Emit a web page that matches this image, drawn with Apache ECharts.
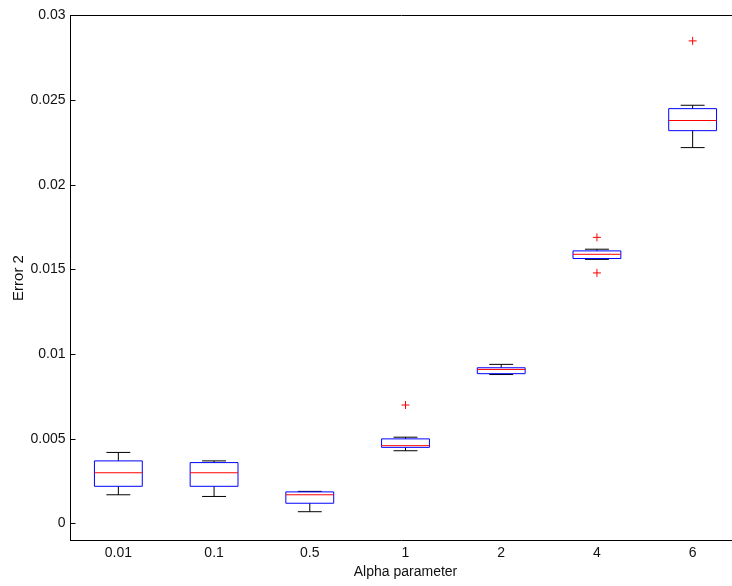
<!DOCTYPE html>
<html>
<head>
<meta charset="utf-8">
<script src="https://cdn.jsdelivr.net/npm/echarts@6/dist/echarts.min.js"></script>
<style>
  html, body { margin: 0; padding: 0; background: #fff; }
  #chart { width: 732px; height: 586px; }
</style>
</head>
<body>
<div id="chart"></div>
<script>
// Alpha parameter values (x categories)
const categories = ['0.01', '0.1', '0.5', '1', '2', '4', '6'];

// Box statistics for Error 2 per alpha value
const lowerWhisker = [0.0017, 0.0016, 0.0007, 0.0043, 0.0088, 0.0156, 0.0222];
const lowerQuartile = [0.0022, 0.0022, 0.0012, 0.0045, 0.00885, 0.01565, 0.0232];
const medianValue = [0.0030, 0.0030, 0.0017, 0.0046, 0.0091, 0.0159, 0.0238];
const upperQuartile = [0.0037, 0.0036, 0.00187, 0.0050, 0.0092, 0.0161, 0.0245];
const upperWhisker = [0.0042, 0.0037, 0.0019, 0.0051, 0.0094, 0.0162, 0.0247];

// Outliers: category each belongs to and its value
const outlierCategory = ['1', '4', '4', '6'];
const outlierValue = [0.0070, 0.0169, 0.0148, 0.0285];

const boxData = categories.map((c, i) => [
  i, lowerWhisker[i], lowerQuartile[i], medianValue[i], upperQuartile[i], upperWhisker[i]
]);
const outlierData = outlierCategory.map((c, i) => [categories.indexOf(c), outlierValue[i]]);

const FONT = 'Liberation Sans, Arial, Helvetica, sans-serif';

function renderBox(params, api) {
  const idx = api.value(0);
  const x = api.coord([idx, 0])[0];
  const yLo = api.coord([idx, api.value(1)])[1];
  const yQ1 = api.coord([idx, api.value(2)])[1];
  const yMed = api.coord([idx, api.value(3)])[1];
  const yQ3 = api.coord([idx, api.value(4)])[1];
  const yHi = api.coord([idx, api.value(5)])[1];
  const band = api.size([1, 0])[0];
  const bw = band * 0.5;
  const cw = bw * 0.5;
  const whisker = { stroke: '#000', lineWidth: 1 };
  return {
    type: 'group',
    children: [
      { type: 'line', shape: { x1: x, y1: yHi, x2: x, y2: yQ3 }, style: whisker },
      { type: 'line', shape: { x1: x, y1: yQ1, x2: x, y2: yLo }, style: whisker },
      { type: 'line', shape: { x1: x - cw / 2, y1: yHi, x2: x + cw / 2, y2: yHi }, style: whisker },
      { type: 'line', shape: { x1: x - cw / 2, y1: yLo, x2: x + cw / 2, y2: yLo }, style: whisker },
      { type: 'rect', shape: { x: x - bw / 2, y: yQ3, width: bw, height: yQ1 - yQ3 },
        style: { fill: 'none', stroke: '#0000ff', lineWidth: 1 } },
      { type: 'line', shape: { x1: x - bw / 2, y1: yMed, x2: x + bw / 2, y2: yMed },
        style: { stroke: '#ff0000', lineWidth: 1 } }
    ]
  };
}

function renderPlus(params, api) {
  const p = api.coord([api.value(0), api.value(1)]);
  const r = 4;
  const st = { stroke: '#ff0000', lineWidth: 1 };
  return {
    type: 'group',
    children: [
      { type: 'line', shape: { x1: p[0] - r, y1: p[1], x2: p[0] + r, y2: p[1] }, style: st },
      { type: 'line', shape: { x1: p[0], y1: p[1] - r, x2: p[0], y2: p[1] + r }, style: st }
    ]
  };
}

const chart = echarts.init(document.getElementById('chart'), null, { renderer: 'canvas' });
chart.setOption({
  animation: false,
  backgroundColor: '#fff',
  grid: {
    left: 70.5, top: 15.5, right: -8.5, bottom: 45.5,
    outerBoundsMode: 'none',
    containLabel: false,
    show: false
  },
  xAxis: [
    {
      type: 'category',
      data: categories,
      boundaryGap: true,
      name: 'Alpha parameter',
      nameLocation: 'middle',
      nameGap: 25,
      nameMoveOverlap: false,
      nameTextStyle: { color: '#111', fontSize: 14, fontFamily: FONT },
      axisLine: { onZero: false, lineStyle: { color: '#000', width: 1 } },
      axisTick: { show: false },
      axisLabel: { color: '#111', fontSize: 14, fontFamily: FONT, margin: 6 },
      splitLine: { show: false }
    },
    {
      // top frame line of the plot box
      type: 'category',
      data: categories,
      position: 'top',
      axisLine: { onZero: false, lineStyle: { color: '#000', width: 1 } },
      axisTick: { show: false },
      axisLabel: { show: false },
      splitLine: { show: false }
    }
  ],
  yAxis: {
    type: 'value',
    min: -0.001,
    max: 0.03,
    splitNumber: 6,
    name: 'Error 2',
    nameLocation: 'middle',
    nameGap: 44,
    nameMoveOverlap: false,
    nameTextStyle: { color: '#111', fontSize: 15, fontFamily: FONT },
    axisLine: { show: true, onZero: false, lineStyle: { color: '#000', width: 1 } },
    axisTick: { show: true, inside: true, length: 5, lineStyle: { color: '#000' } },
    axisLabel: {
      color: '#111', fontSize: 14, fontFamily: FONT, margin: 5,
      formatter: v => (v < 0 ? '' : String(+v.toFixed(4)))
    },
    splitLine: { show: false }
  },
  series: [
    {
      type: 'custom',
      renderItem: renderBox,
      data: boxData,
      encode: { x: 0, y: [1, 2, 3, 4, 5] }
    },
    {
      type: 'custom',
      renderItem: renderPlus,
      data: outlierData,
      encode: { x: 0, y: 1 }
    }
  ]
});
</script>
</body>
</html>
